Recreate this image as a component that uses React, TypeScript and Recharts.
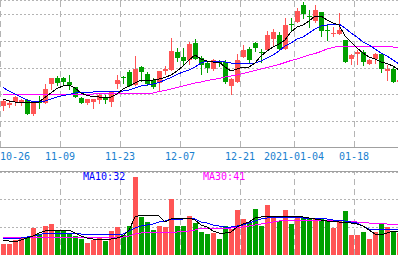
import React from 'react';
import { ComposedChart, Bar, Line, XAxis, YAxis, CartesianGrid, ReferenceLine } from 'recharts';

// ---- categories ----
const dates = [
  '10-26','10-27','10-28','10-29','10-30',
  '11-02','11-03','11-04','11-05','11-06',
  '11-09','11-10','11-11','11-12','11-13',
  '11-16','11-17','11-18','11-19','11-20',
  '11-23','11-24','11-25','11-26','11-27',
  '11-30','12-01','12-02','12-03','12-04',
  '12-07','12-08','12-09','12-10','12-11',
  '12-14','12-15','12-16','12-17','12-18',
  '12-21','12-22','12-23','12-24','12-25',
  '12-28','12-29','12-30','12-31',
  '2021-01-04','01-05','01-06','01-07','01-08',
  '01-11','01-12','01-13','01-14','01-15',
  '01-18','01-19','01-20','01-21','01-22',
  '01-25','01-26','01-27',
];
const tickDates = ['10-26', '11-09', '11-23', '12-07', '12-21', '2021-01-04', '01-18'];

// ---- price series ----
const open = [12.10,12.15,12.30,12.30,12.40,11.70,12.35,12.25,13.20,13.50, 13.50,13.30,13.05,12.50,12.25,12.30,12.40,12.55,12.30,13.20, 13.55,13.80,13.15,14.05,13.70,13.40,13.25,13.85,13.90,14.80, 14.55,14.40,15.25,14.50,14.25,13.95,14.30,14.30,13.10,13.30, 14.55,14.95,15.25,14.775,14.90,15.45,15.65,14.95,16.175,16.30, 17.15,16.575,16.35,16.80,15.875,15.725,15.70,15.40,14.45,14.70, 14.80,14.20,14.45,14.70,13.85,13.95,13.30];
const high = [12.40,12.40,12.60,12.45,12.45,12.25,12.60,13.20,13.50,13.60, 13.55,13.65,13.05,12.55,12.45,12.45,12.70,12.65,12.85,13.65, 13.60,13.90,14.60,14.10,13.80,13.50,13.85,14.10,15.50,15.00, 15.00,15.30,15.45,14.60,14.35,14.45,14.40,14.40,13.50,14.70, 15.15,15.05,15.30,14.95,15.85,15.95,15.80,16.50,16.50,17.00, 17.30,16.90,17.15,16.80,16.15,16.05,16.75,15.40,14.70,14.90, 14.90,14.45,14.75,14.70,14.15,14.05,13.40];
const low = [11.85,12.00,12.10,12.10,11.65,11.60,11.95,12.20,12.90,13.10, 13.15,12.90,12.50,12.20,12.15,11.95,12.20,12.20,12.05,12.95, 13.20,13.05,13.10,13.30,13.10,12.95,12.85,13.65,13.85,14.30, 14.15,14.15,14.40,13.65,13.75,13.85,14.05,13.20,12.65,13.25, 14.50,14.20,14.80,14.25,14.85,15.05,14.85,14.90,15.85,16.25, 16.45,16.00,16.25,15.55,15.35,15.55,15.65,14.25,14.15,14.15, 14.10,14.15,14.20,13.75,13.35,13.25,13.30];
const close = [12.35,12.25,12.55,12.40,11.70,12.25,12.25,12.95,13.50,13.25, 13.30,13.15,12.55,12.25,12.45,12.45,12.65,12.40,12.80,13.40, 13.50,13.10,13.95,13.80,13.20,13.05,13.85,13.95,14.85,14.50, 14.35,15.20,14.45,14.15,14.00,14.40,14.275,13.30,13.45,14.40, 14.90,14.40,15.00,14.75,15.65,15.80,14.95,16.15,16.15,16.85, 16.70,16.55,16.90,15.85,15.85,15.75,15.90,14.30,14.65,14.80, 14.30,14.40,14.70,13.95,13.95,13.30,13.40];

const ma5 = [12.45,12.35,12.30,12.30,12.275,12.25,12.30,12.525,12.75,12.975, 13.10,13.15,13.00,12.75,12.625,12.575,12.55,12.55,12.55,12.70, 12.95,13.10,13.25,13.40,13.40,13.40,13.45,13.525,13.65,13.85, 14.10,14.40,14.65,14.45,14.35,14.30,14.30,14.05,13.85,13.95, 14.05,14.05,14.25,14.60,14.85,15.05,15.20,15.40,15.80,16.05, 16.15,16.35,16.60,16.60,16.40,16.25,16.15,15.60,15.30,15.00, 14.75,14.55,14.45,14.30,14.225,14.10,13.90];
const ma10 = [13.025,12.85,12.70,12.55,12.40,12.325,12.30,12.35,12.45,12.55, 12.625,12.675,12.75,12.80,12.80,12.80,12.85,12.85,12.85,12.85, 12.85,12.90,13.00,13.10,13.15,13.20,13.275,13.40,13.525,13.675, 13.80,13.90,14.05,14.25,14.35,14.35,14.35,14.30,14.25,14.25, 14.25,14.20,14.25,14.35,14.50,14.65,14.85,15.10,15.25,15.45, 15.55,15.75,15.95,16.10,16.15,16.175,16.20,16.00,15.75,15.55, 15.30,15.15,14.95,14.75,14.60,14.40,14.20];
const ma20 = [12.70,12.70,12.70,12.70,12.70,12.70,12.70,12.70,12.70,12.70, 12.70,12.70,12.70,12.70,12.70,12.70,12.725,12.75,12.75,12.75, 12.75,12.75,12.75,12.75,12.75,12.75,12.825,12.875,12.95,13.025, 13.10,13.175,13.25,13.30,13.375,13.425,13.475,13.55,13.60,13.65, 13.725,13.80,13.875,13.95,14.025,14.10,14.175,14.275,14.375,14.45, 14.55,14.65,14.725,14.825,14.95,15.025,15.10,15.10,15.10,15.10, 15.10,15.10,15.10,15.075,15.075,15.05,15.05];

// ---- volume series ----
const vol = [14,14,19,21,22.5,34,26,36,39,30, 31,26,24,20,15,19,21,17.5,30,35, 25,36,97.5,47.5,41,31,36,35,70,36, 36,49,40,29,26,27.5,20,36,32.5,56, 45,40,57.5,36,62.5,46,42.5,56,39,49, 46,45,45,45,44,34,42.5,55,25,25, 29,20,29,39,35,30,27.5];
const vma5 = [18.75,17.5,16.25,18.75,21.25,23.75,27.5,30,31.25,31.25, 31.25,31.25,27.5,23.75,21.25,20,20,20,20,21.25, 23.75,31.25,47.5,50,50,50,48.75,41.25,45,46.25, 46.25,46.25,43.75,37.5,35,30,27.5,27.5,28.75,35, 38.75,41.25,46.25,47.5,48.75,48.75,48.75,48.75,48.75,48.75, 47.5,46.25,45,43.75,42.5,42.5,41.25,41.25,40,38.75, 36.25,31.25,26.25,25,27.5,30,28.75];
const vma10 = [21.25,21.25,21.25,21.25,22.5,23.75,25,27.5,27.5,27.5, 27.5,27.5,27.5,26.25,26.25,26.25,26.25,26.25,26.25,26.25, 26.25,30,33.75,36.25,37.5,38.75,41.25,42.5,45,45, 45,46.25,45,41.25,40,37.5,36.25,35,35,36.25, 37.5,40,42.5,45,46.25,47.5,47.5,47.5,47.5,47.5, 46.25,46.25,46.25,46.25,45,43.75,43.75,42.5,41.25,40, 36.25,32.5,32.5,32.5,32.5,32.5,32.5];
const vma30 = [21.25,22.5,22.5,22.5,22.5,22.5,22.5,22.5,22.5,22.5, 22.5,22.5,22.5,22.5,22.5,22.5,22.5,22.5,22.5,22.5, 22.5,23.75,26.25,27.5,28.75,28.75,28.75,28.75,28.75,28.75, 30,30,31.25,33.75,33.75,33.75,33.75,33.75,33.75,35, 35,36.25,37.5,38.75,40,41.25,42.5,43.75,43.75,43.75, 43.75,43.75,43.75,43.75,43.75,43.75,43.75,42.5,42.5,41.25, 41.25,40,40,40,38.75,38.75,38.75];

const maLabels = [
  { name: 'MA10', value: 32, color: '#0000ff' },
  { name: 'MA30', value: 41, color: '#ff00ff' },
];

const priceDomain = [10.05, 17.4];
const priceGrid = [11.35, 12.675, 14.0, 15.35, 16.7];
const volDomain = [0, 103.75];
const volGrid = [35, 70];

const rows = dates.map((d, i) => ({
  date: d,
  open: open[i], high: high[i], low: low[i], close: close[i],
  ma5: ma5[i], ma10: ma10[i], ma20: ma20[i],
  vol: vol[i], vma5: vma5[i], vma10: vma10[i], vma30: vma30[i],
}));

const UP = '#ff5555';
const DOWN = '#00a000';
const GRID = '#b4b4b4';
const FONT = 'DejaVu Sans Mono, monospace';

const Candle = (props: any) => {
  const { x, y, width, height, payload } = props;
  if (!payload) return null;
  const { open: o, close: c, high: h, low: l } = payload;
  const yTop = Math.min(y, y + height);
  const hh = Math.abs(height);
  const span = h - l;
  const py = (p: number) => (span > 0 ? yTop + ((h - p) / span) * hh : yTop);
  const color = c >= o ? UP : DOWN;
  const left = Math.floor(x);
  const bw = Math.round(width);
  const cx = left + Math.floor(bw / 2) + 0.5;
  const t = Math.round(py(Math.max(o, c)));
  let b = Math.round(py(Math.min(o, c)));
  if (b - t < 1) b = t + 1;
  return (
    <g shapeRendering="crispEdges">
      <line x1={cx} x2={cx} y1={Math.round(py(h))} y2={Math.round(py(l))} stroke={color} strokeWidth={1} />
      <rect x={left} y={t} width={bw} height={b - t} fill={color} />
    </g>
  );
};

const VolBar = (props: any) => {
  const { x, y, width, height, payload } = props;
  if (!payload) return null;
  const color = payload.close >= payload.open ? UP : DOWN;
  const top = Math.round(Math.min(y, y + height));
  const bottom = Math.round(Math.max(y, y + height));
  return <rect x={Math.floor(x)} y={top} width={Math.round(width)} height={bottom - top} fill={color} shapeRendering="crispEdges" />;
};

const DateTick = (props: any) => {
  const { x, y, payload } = props;
  const first = payload.value === dates[0];
  return (
    <text x={x - 3} y={y} dy={5} textAnchor={first ? 'start' : 'middle'} fill="#1a7fcf" fontFamily={FONT} fontSize={10}>
      {payload.value}
    </text>
  );
};

const vLines = (prefix: string) =>
  tickDates.map((d) => (
    <ReferenceLine key={prefix + d} x={d} position="start" stroke={GRID} strokeDasharray="6 4" shapeRendering="crispEdges" ifOverflow="visible" />
  ));

const lineProps = { type: 'linear' as const, strokeWidth: 1, dot: false, activeDot: false, isAnimationActive: false, shapeRendering: 'crispEdges' };

export default function App() {
  const W = dates.length * 6;
  return (
    <div style={{ position: 'absolute', left: 0, top: 0, width: 398, height: 255, overflow: 'hidden', background: '#fff' }}>
      <ComposedChart width={W} height={171} data={rows} margin={{ top: 0, right: 0, bottom: 0, left: 0 }}>
        <CartesianGrid vertical={false} stroke={GRID} strokeDasharray="2 2" shapeRendering="crispEdges" />
        <XAxis dataKey="date" height={24} ticks={tickDates} interval={0} tickLine={false} axisLine={{ stroke: '#a0a0a0', shapeRendering: 'crispEdges' }} tick={<DateTick />} />
        <YAxis hide domain={priceDomain} ticks={priceGrid} allowDataOverflow />
        {vLines('p')}
        <Bar dataKey={(d: any) => [d.low, d.high]} barSize={5} shape={<Candle />} isAnimationActive={false} />
        <Line {...lineProps} dataKey="ma20" stroke="#ff00ff" />
        <Line {...lineProps} dataKey="ma10" stroke="#0000ff" />
        <Line {...lineProps} dataKey="ma5" stroke="#000000" />
      </ComposedChart>
      <div style={{ borderTop: '1px solid #a0a0a0', width: W, height: 83 }}>
        <ComposedChart width={W} height={83} data={rows} margin={{ top: 0, right: 0, bottom: 0, left: 0 }}>
          <CartesianGrid vertical={false} stroke={GRID} strokeDasharray="2 2" shapeRendering="crispEdges" />
          <XAxis dataKey="date" hide />
          <YAxis hide domain={volDomain} ticks={volGrid} allowDataOverflow />
          {vLines('v')}
          <Bar dataKey="vol" barSize={5} shape={<VolBar />} isAnimationActive={false} />
          <Line {...lineProps} dataKey="vma30" stroke="#ff00ff" />
          <Line {...lineProps} dataKey="vma10" stroke="#0000ff" />
          <Line {...lineProps} dataKey="vma5" stroke="#000000" />
        </ComposedChart>
      </div>
      <svg width={398} height={255} style={{ position: 'absolute', left: 0, top: 0, pointerEvents: 'none' }}>
        {maLabels.map((m, i) => (
          <text key={m.name} x={83 + i * 120} y={180} fill={m.color} fontFamily={FONT} fontSize={10}>
            {m.name}:{m.value}
          </text>
        ))}
      </svg>
    </div>
  );
}
